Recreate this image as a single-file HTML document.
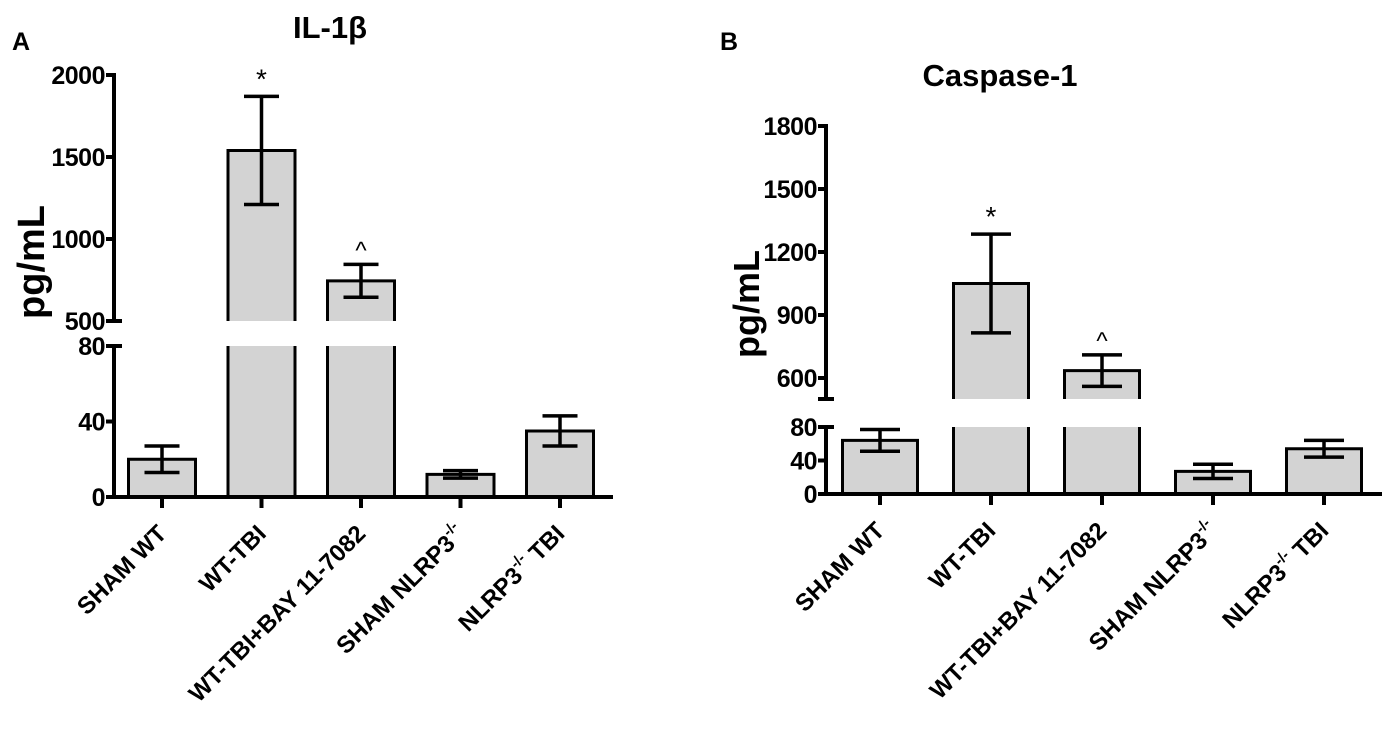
<!DOCTYPE html>
<html><head><meta charset="utf-8">
<style>
html,body{margin:0;padding:0;background:#fff;}
svg{display:block;font-family:"Liberation Sans",Arial,sans-serif;font-weight:bold;}
</style></head>
<body>
<svg id="chart" width="1394" height="741" viewBox="0 0 1394 741" xmlns="http://www.w3.org/2000/svg">
<g id="pa"></g>
<g id="pb"></g>
</svg>
<script>
const categories = ["SHAM WT","WT-TBI","WT-TBI+BAY 11-7082","SHAM NLRP3","NLRP3 TBI"];
const il1bValues = [20, 1540, 745, 12, 35];
const il1bErrors = [7, 330, 100, 2, 8];
const casp1Values = [64, 1050, 635, 27, 54];
const casp1Errors = [13, 235, 75, 8.5, 10];
const il1bUpperTicks = [500, 1000, 1500, 2000];
const il1bLowerTicks = [0, 40, 80];
const casp1UpperTicks = [600, 900, 1200, 1500, 1800];
const casp1LowerTicks = [0, 40, 80];
const il1bMarks = ["*", "^"];
const casp1Marks = ["*", "^"];

const NS = "http://www.w3.org/2000/svg";
function mk(parent, tag, attrs){const e=document.createElementNS(NS,tag);for(const k in attrs)e.setAttribute(k,attrs[k]);parent.appendChild(e);return e;}

function panel(g, cfg){
  const ax=cfg.axisX;
  const yLow=v=>cfg.zeroY-(v-0)*(cfg.zeroY-cfg.lowTopY)/cfg.lowMax;
  const yUp=v=>cfg.upBotY-(v-cfg.upMin)*(cfg.upBotY-cfg.upTopY)/(cfg.upMax-cfg.upMin);
  const xC=i=>cfg.x0+i*cfg.step;
  cfg.values.forEach((v,i)=>{
    const x=xC(i)-cfg.bw/2;
    const bg=mk(g,'g',{});
    
    
    if(v<=cfg.lowMax){
      mk(bg,'path',{d:`M${x},${cfg.zeroY} V${yLow(v)} H${x+cfg.bw} V${cfg.zeroY}`,fill:'#d3d3d3',stroke:'#000','stroke-width':3});
      const e=cfg.errors[i];
      const eg=mk(bg,'path',{d:`M${xC(i)},${yLow(v-e)} V${yLow(v+e)} M${xC(i)-cfg.cap/2},${yLow(v+e)} H${xC(i)+cfg.cap/2} M${xC(i)-cfg.cap/2},${yLow(v-e)} H${xC(i)+cfg.cap/2}`,stroke:'#000','stroke-width':3.5,fill:'none'});
      
      
    } else {
      mk(bg,'rect',{x:x,y:cfg.lowTopY,width:cfg.bw,height:cfg.zeroY-cfg.lowTopY,fill:'#d3d3d3'});
      mk(bg,'path',{d:`M${x},${cfg.zeroY} V${cfg.lowTopY} M${x+cfg.bw},${cfg.lowTopY} V${cfg.zeroY}`,stroke:'#000','stroke-width':3,fill:'none'});
      mk(bg,'path',{d:`M${x},${cfg.upBotY} V${yUp(v)} H${x+cfg.bw} V${cfg.upBotY}`,fill:'#d3d3d3',stroke:'#000','stroke-width':3});
      const e=cfg.errors[i];
      const eg=mk(bg,'path',{d:`M${xC(i)},${yUp(v-e)} V${yUp(v+e)} M${xC(i)-cfg.cap/2},${yUp(v+e)} H${xC(i)+cfg.cap/2} M${xC(i)-cfg.cap/2},${yUp(v-e)} H${xC(i)+cfg.cap/2}`,stroke:'#000','stroke-width':3.5,fill:'none'});
      
      
      const m=cfg.marks[i-1];
      const t=mk(g,'text',{x:xC(i),y:yUp(v+e)-(m==='*'?8:6),'text-anchor':'middle','font-size':m==='*'?28:24,'font-weight':'normal'});
      t.textContent=m;
      
      
    }
  });
  const axg=mk(g,'g',{stroke:'#000','stroke-width':4,fill:'none'});
  
  
  mk(axg,'path',{d:`M${ax},${cfg.upTopY-2} V${cfg.upBotY+2} M${ax},${cfg.lowTopY-2} V${cfg.zeroY}`});
  mk(axg,'path',{d:`M${ax-8},${cfg.upBotY} H${ax+8} M${ax-8},${cfg.lowTopY} H${ax+8}`});
  const xg=mk(g,'path',{d:`M${ax-8},${cfg.zeroY} H${cfg.axisEnd}`,stroke:'#000','stroke-width':4});
  
  
  cfg.values.forEach((v,i)=>mk(g,'path',{d:`M${xC(i)},${cfg.zeroY} V${cfg.zeroY+11}`,stroke:'#000','stroke-width':4}));
  const tickLab=(val,y)=>{
    mk(g,'path',{d:`M${ax-8},${y} H${ax}`,stroke:'#000','stroke-width':4});
    const t=mk(g,'text',{x:ax-9,y:y+9,'text-anchor':'end','font-size':25,'letter-spacing':-0.5});
    t.textContent=val;
    
    
  };
  cfg.upTicks.forEach(v=>tickLab(v,yUp(v)));
  cfg.lowTicks.forEach(v=>tickLab(v,yLow(v)));
  categories.forEach((c,i)=>{
    const x=xC(i)+6,y=cfg.zeroY+38;
    const t=mk(g,'text',{x:x,y:y,'text-anchor':'end','font-size':24,transform:`rotate(-45 ${x} ${y})`});
    
    
    if(c==="SHAM NLRP3"){
      t.appendChild(document.createTextNode("SHAM NLRP3"));
      const s=mk(t,'tspan',{'font-size':15,dy:-11});s.textContent="-/-";
    } else if(c==="NLRP3 TBI"){
      t.appendChild(document.createTextNode("NLRP3"));
      const s=mk(t,'tspan',{'font-size':15,dy:-11});s.textContent="-/-";
      const r=mk(t,'tspan',{dy:11});r.textContent=" TBI";
    } else t.textContent=c;
  });
  const yt=mk(g,'text',{x:cfg.ytX,y:cfg.ytY,'text-anchor':'middle','font-size':cfg.ytSize,transform:`rotate(-90 ${cfg.ytX} ${cfg.ytY})`});
  yt.textContent="pg/mL";
  
  
  const tt=mk(g,'text',{x:cfg.titleX,y:cfg.titleY,'text-anchor':'middle','font-size':cfg.titleSize});
  tt.textContent=cfg.title;
  
  
  const pl=mk(g,'text',{x:cfg.letterX,y:50,'font-size':25});
  pl.textContent=cfg.letter;
  
  
}

panel(document.getElementById('pa'),{
  axisX:114,axisEnd:613,zeroY:497,lowTopY:346,lowMax:80,upBotY:321,upTopY:75,upMin:500,upMax:2000,
  x0:162,step:99.5,bw:67,cap:35,values:il1bValues,errors:il1bErrors,marks:il1bMarks,
  upTicks:il1bUpperTicks,lowTicks:il1bLowerTicks,ytX:44,ytY:262,ytSize:38,title:"IL-1β",titleX:330,titleY:38,titleSize:31,letter:"A",letterX:12
});
panel(document.getElementById('pb'),{
  axisX:826,axisEnd:1382,zeroY:494,lowTopY:427,lowMax:80,upBotY:399,upTopY:126,upMin:500,upMax:1800,
  x0:880,step:111,bw:75,cap:40,values:casp1Values,errors:casp1Errors,marks:casp1Marks,
  upTicks:casp1UpperTicks,lowTicks:casp1LowerTicks,ytX:759,ytY:304,ytSize:36,title:"Caspase-1",titleX:1000,titleY:86,titleSize:31,letter:"B",letterX:720
});
</script>
</body></html>
